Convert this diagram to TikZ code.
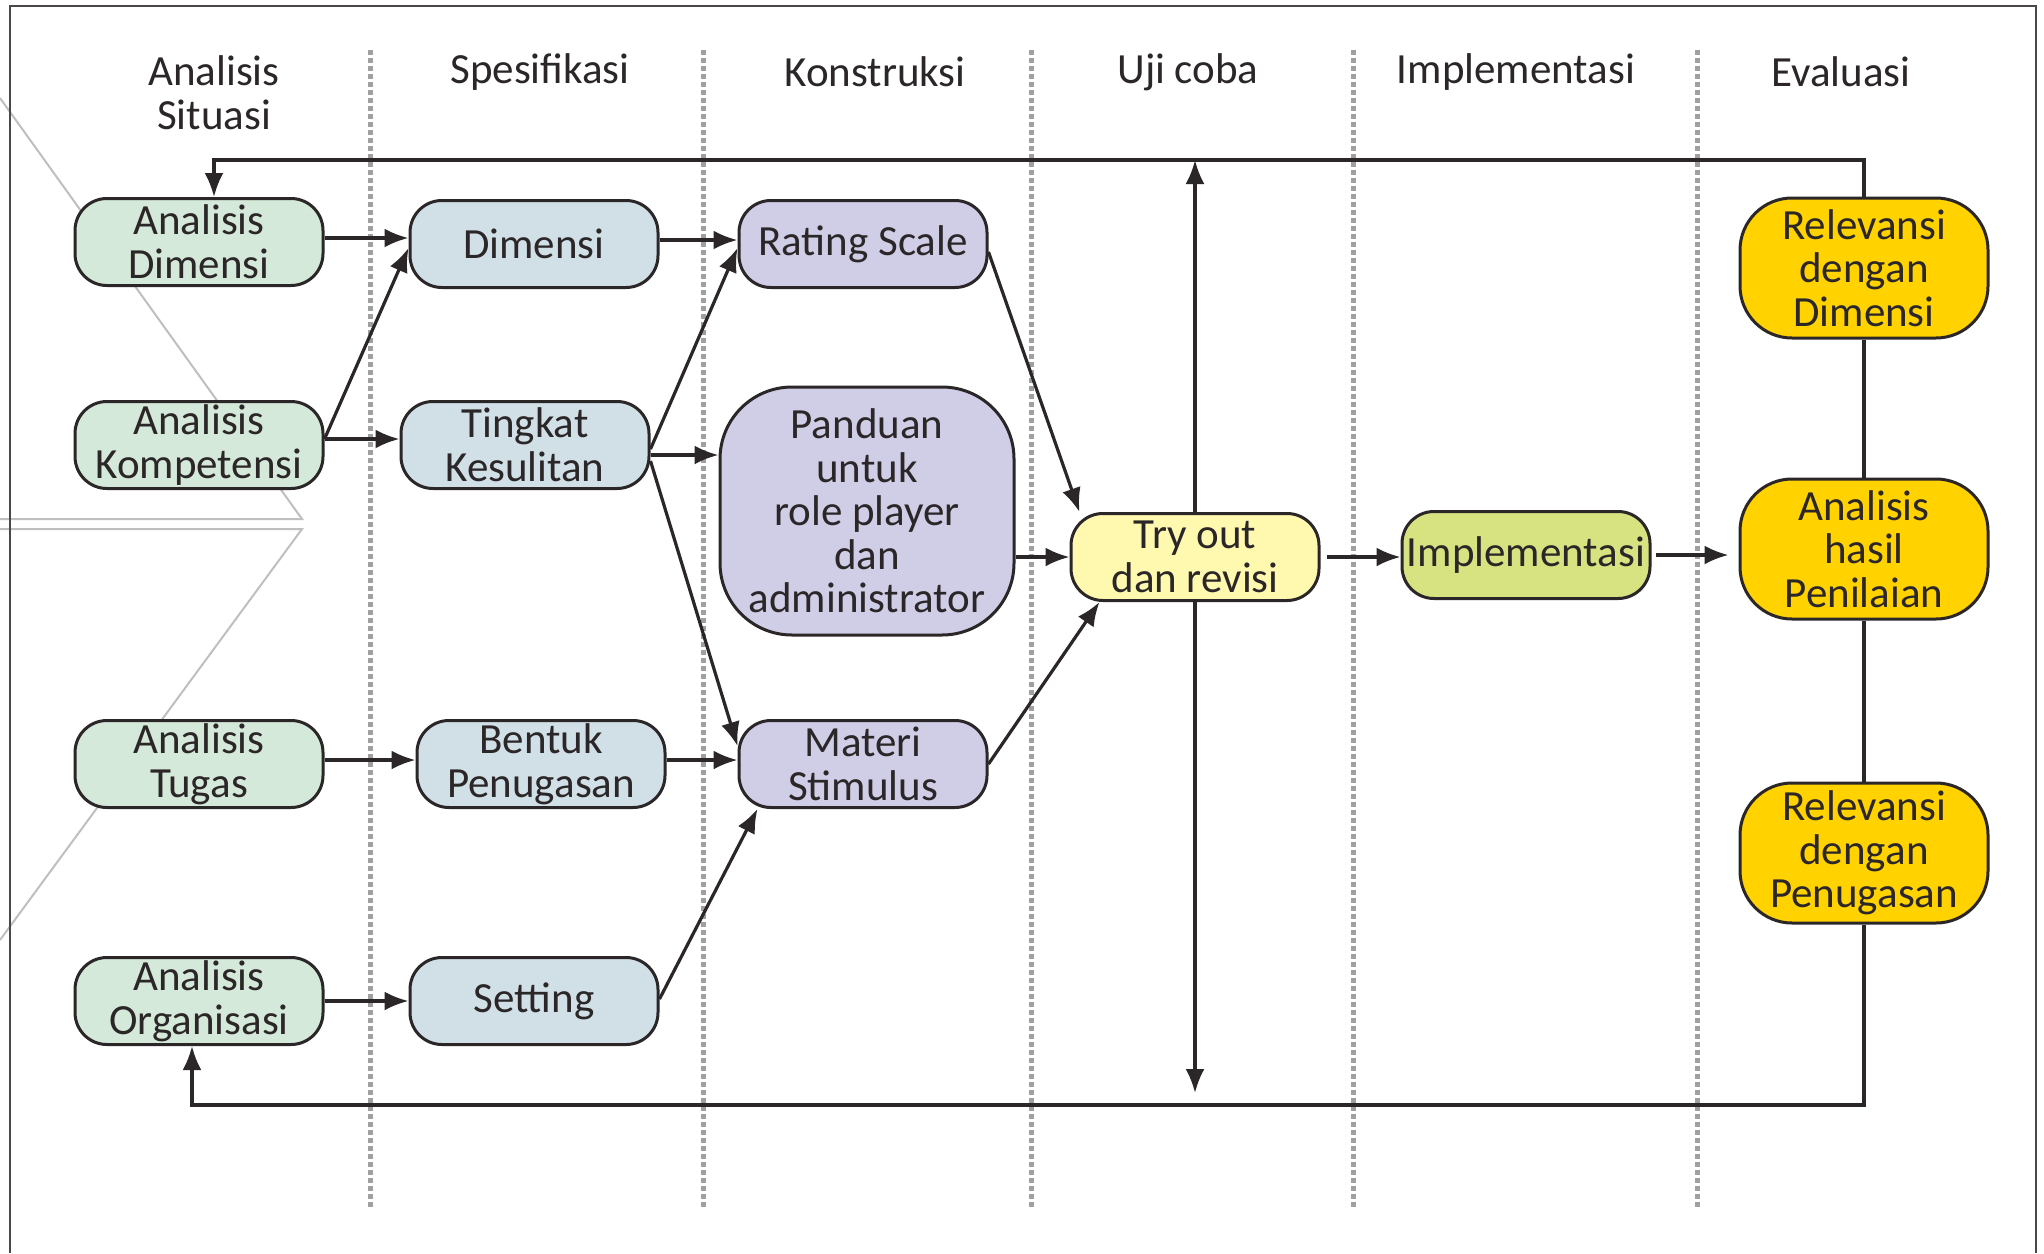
\documentclass[tikz,border=0pt]{standalone}
\usepackage{fontspec}
\setmainfont{Carlito}
\usetikzlibrary{arrows.meta}
\definecolor{ink}{HTML}{2B2627}
\definecolor{cgreen}{HTML}{D5E9DA}
\definecolor{cblue}{HTML}{D1DFE7}
\definecolor{cpurple}{HTML}{D0CDE6}
\definecolor{cyellow}{HTML}{FFF9AF}
\definecolor{cimpl}{HTML}{D7E380}
\definecolor{cgold}{HTML}{FFD200}
\definecolor{sepgray}{HTML}{A0A0A0}
\begin{document}
\begin{tikzpicture}[x=0.5pt,y=-0.5pt,
  box/.style={draw=ink, line width=1.5pt, rounded corners=16pt, minimum width=124pt,
    minimum height=43.5pt, align=center, inner sep=0pt, text=ink,
    font=\fontsize{21.5}{21.8}\selectfont},
  evalbox/.style={box, fill=cgold, minimum height=70pt, rounded corners=26pt},
  hdr/.style={align=center, inner sep=0pt, text=ink, font=\fontsize{21.5}{21.8}\selectfont},
  arr/.style={draw=ink, line width=1.6pt, -{Latex[length=12pt,width=9.5pt]}},
  ln/.style={draw=ink, line width=1.6pt},
  sepline/.style={draw=sepgray, line width=2.5pt, dash pattern=on 2.5pt off 1.5pt},
  bg/.style={draw=black!25, line width=1pt},
  frame/.style={draw=ink!85, line width=0.8pt}]
\fill[white] (0,0) rectangle (2044,1253);
\useasboundingbox (0,0) rectangle (2044,1253);
% background chevron and frame
\draw[bg] (0,98) -- (302,519) -- (0,519);
\draw[bg] (0,529) -- (302,529) -- (0,940);
\draw[frame] (10,1253) -- (10,6) -- (2036,6) -- (2036,1253);
% separators
\foreach \xx in {370,703,1031,1353,1697}
  \draw[sepline] (\xx,50) -- (\xx,1210);
% headers
\node[hdr] (h1) at (214,93) {Analisis\\Situasi};
\node[hdr] (h2) at (540,72) {Spesifikasi};
\node[hdr] (h3) at (875,72) {Konstruksi};
\node[hdr] (h4) at (1188,72) {Uji coba};
\node[hdr] (h5) at (1516,72) {Implementasi};
\node[hdr] (h6) at (1841,72) {Evaluasi};
% nodes
\node[box, fill=cgreen] (AD) at (199,242) {Analisis\\Dimensi};
\node[box, fill=cgreen] (AK) at (199,445) {Analisis\\Kompetensi};
\node[box, fill=cgreen] (AT) at (199,764) {Analisis\\Tugas};
\node[box, fill=cgreen] (AO) at (199,1001) {Analisis\\Organisasi};
\node[box, fill=cblue] (DM) at (534,244) {Dimensi};
\node[box, fill=cblue] (TK) at (525,445) {Tingkat\\Kesulitan};
\node[box, fill=cblue] (BP) at (541,764) {Bentuk\\Penugasan};
\node[box, fill=cblue] (ST) at (534,1001) {Setting};
\node[box, fill=cpurple] (RS) at (863,244) {\raisebox{-1.5pt}{Rating Scale}};
\node[box, fill=cpurple, minimum width=147pt, minimum height=124pt, rounded corners=36pt] (PD) at (867,511) {Panduan\\untuk\\role player\\dan\\administrator};
\node[box, fill=cpurple] (MS) at (863,764) {Materi\\Stimulus};
\node[box, fill=cyellow] (TO) at (1195,557) {Try out\\dan revisi};
\node[box, fill=cimpl] (IM) at (1526,555) {Implementasi};
\node[evalbox] (RD) at (1864,268) {Relevansi\\dengan\\Dimensi};
\node[evalbox] (AH) at (1864,549) {Analisis\\hasil\\Penilaian};
\node[evalbox] (RP) at (1864,853) {Relevansi\\dengan\\Penugasan};
% loop coordinates
\coordinate (topL) at (214,160);
\coordinate (botL) at (192,1105);
\coordinate (botT) at (1195,1093);
% feedback loops
\draw[arr] (RD.north) |- (topL) -- (topL |- AD.north);
\draw[arr] (RP.south) |- (botL) -- (botL |- AO.south);
\draw[ln] (RD) -- (AH);
\draw[ln] (AH) -- (RP);
\draw[arr] (TO.north) -- (TO.north |- topL);
\draw[arr] (TO.south) -- (botT);
% connectors
\draw[arr] ([yshift=2pt]AD.east) -- ([yshift=2pt]AD.east -| DM.west);
\draw[arr] ([yshift=3pt]AK.east) -- ([yshift=3pt]AK.east -| TK.west);
\draw[arr] ([yshift=3pt]AK.east) -- ([yshift=-2pt]DM.west);
\draw[arr] ([yshift=2pt]AT.east) -- ([yshift=2pt]AT.east -| BP.west);
\draw[arr] (AO.east) -- (AO.east -| ST.west);
\draw[arr] ([yshift=2pt]DM.east) -- ([yshift=2pt]DM.east -| RS.west);
\draw[arr] ([yshift=-2pt]TK.east) -- ([yshift=-2pt]RS.west);
\draw[arr] ([yshift=-5pt]TK.east) -- ([yshift=-5pt]TK.east -| PD.west);
\draw[arr] ([yshift=-8pt]TK.east) -- ([yshift=9pt]MS.west);
\draw[arr] ([yshift=2pt]BP.east) -- ([yshift=2pt]BP.east -| MS.west);
\draw[arr] ([yshift=1pt]ST.east) -- ([xshift=10pt]MS.south west);
\draw[arr] ([yshift=-4pt]RS.east) -- ([xshift=5pt]TO.north west);
\draw[arr] (TO.west -| PD.east) -- (TO.west);
\draw[arr] (MS.east) -- ([xshift=15pt]TO.south west);
\draw[arr] ([xshift=3pt]TO.east) -- (TO.east -| IM.west);
\draw[arr] ([xshift=2pt]IM.east) -- ([xshift=-5pt]IM.east -| AH.west);
\end{tikzpicture}
\end{document}
